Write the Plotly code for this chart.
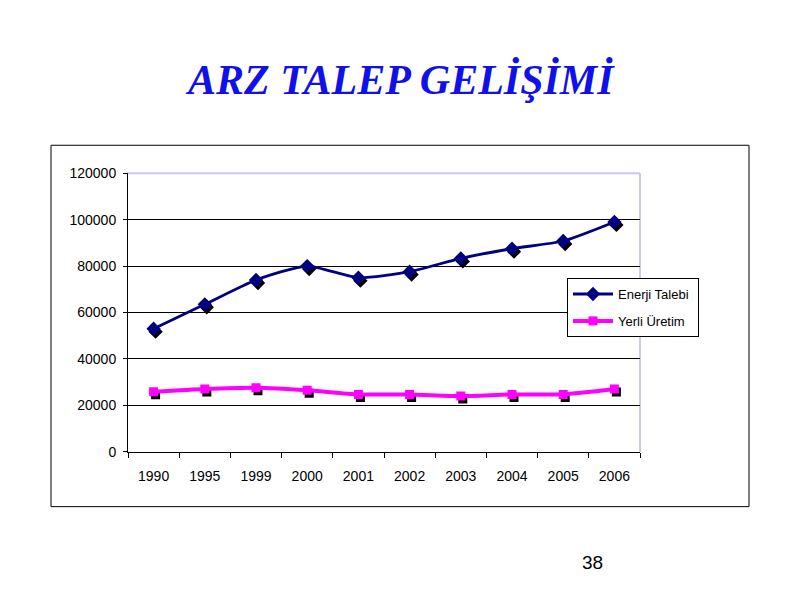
import plotly.graph_objects as go

years = ["1990", "1995", "1999", "2000", "2001", "2002", "2003", "2004", "2005", "2006"]
enerji_talebi = [53000, 63500, 74000, 80000, 75000, 77600, 83300, 87500, 90800, 99000]
yerli_uretim = [25800, 27000, 27600, 26500, 24700, 24700, 24000, 24700, 24700, 27000]
y_ticks = [0, 20000, 40000, 60000, 80000, 100000, 120000]

W, H = 800, 600
px0, px1, py0, py1 = 128, 640, 173, 452  # plot area in pixels
dx, dy = 2, 3  # shadow offset
TOP, SPAN = 7.5, 585.0  # observed vertical mapping of paper coords in the page


def fx(p):
    return p / W


def fy(p):
    return 1 - (p - TOP) / SPAN


fig = go.Figure()

# shadow markers (drawn first, on offset invisible axes)
fig.add_trace(go.Scatter(x=years, y=enerji_talebi, mode="markers", xaxis="x", yaxis="y",
                         marker=dict(symbol="diamond", size=11, color="black"),
                         showlegend=False, hoverinfo="skip"))
fig.add_trace(go.Scatter(x=years, y=yerli_uretim, mode="markers", xaxis="x", yaxis="y",
                         marker=dict(symbol="square", size=9, color="black"),
                         showlegend=False, hoverinfo="skip"))

fig.add_trace(go.Scatter(x=years, y=enerji_talebi, mode="lines+markers",
                         name="Enerji Talebi\u00a0",
                         xaxis="x2", yaxis="y2", legendgroup="a",
                         line=dict(color="#000080", width=2.8, shape="spline", smoothing=0.6),
                         marker=dict(symbol="diamond", size=11, color="#000080")))
fig.add_trace(go.Scatter(x=years, y=yerli_uretim, mode="lines+markers", name="Yerli Üretim",
                         xaxis="x2", yaxis="y2", legendgroup="b",
                         line=dict(color="#FF00FF", width=4, shape="spline", smoothing=0.6),
                         marker=dict(symbol="square", size=9, color="#FF00FF")))

axis_font = dict(family="Liberation Sans, Arial, sans-serif", size=14, color="black")

fig.update_layout(
    width=W, height=H,
    margin=dict(l=0, r=0, t=0, b=0, pad=0),
    paper_bgcolor="white", plot_bgcolor="rgba(0,0,0,0)",
    xaxis=dict(domain=[fx(px0 + dx), fx(px1 + dx)], type="category", range=[-0.5, 9.5],
               visible=False, anchor="y"),
    yaxis=dict(domain=[fy(py1 + dy), fy(py0 + dy)], range=[0, 120000],
               visible=False, anchor="x"),
    xaxis2=dict(domain=[fx(px0), fx(px1)], type="category", range=[-0.5, 9.5],
                showline=True, linecolor="black", linewidth=1,
                ticks="outside", tickson="boundaries", ticklen=5, tickcolor="black",
                ticklabelstandoff=11,
                showgrid=False, tickfont=axis_font, anchor="y2"),
    yaxis2=dict(domain=[fy(py1), fy(py0)], range=[0, 120000], tickvals=y_ticks,
                tickformat="d",
                showline=True, linecolor="black", linewidth=1,
                ticks="outside", ticklen=4, tickcolor="black",
                ticklabelstandoff=4,
                showgrid=True, gridcolor="black", gridwidth=1,
                zeroline=False, tickfont=axis_font, anchor="x2"),
    legend=dict(x=fx(567), y=fy(278), xanchor="left", yanchor="top",
                bordercolor="black", borderwidth=1, bgcolor="white",
                font=dict(family="Liberation Sans, Arial, sans-serif", size=13, color="black"),
                tracegroupgap=7, itemwidth=40),
    showlegend=True,
)

# outer chart box
fig.add_shape(type="rect", xref="paper", yref="paper",
              x0=fx(51), x1=fx(749), y0=fy(507), y1=fy(145),
              line=dict(color="black", width=1), layer="below")
# plot-area top and right border (lavender)
fig.add_shape(type="line", xref="paper", yref="paper",
              x0=fx(px0), x1=fx(px1), y0=fy(py0), y1=fy(py0),
              line=dict(color="#C8C8F0", width=2), layer="below")
fig.add_shape(type="line", xref="paper", yref="paper",
              x0=fx(px1), x1=fx(px1), y0=fy(py0), y1=fy(py1),
              line=dict(color="#C8C8F0", width=2), layer="below")

fig.add_annotation(text="<b><i>ARZ TALEP GELİŞİMİ</i></b>", xref="paper", yref="paper",
                   x=0.5, y=fy(80), xanchor="center", yanchor="middle", showarrow=False,
                   font=dict(family="Liberation Serif, DejaVu Serif, serif", size=42, color="#1010E8"))
fig.add_annotation(text="38", xref="paper", yref="paper",
                   x=fx(592), y=fy(563), xanchor="center", yanchor="middle", showarrow=False,
                   font=dict(family="Liberation Sans, Arial, sans-serif", size=19, color="black"))

post = (
    "var d=document.getElementById('{plot_id}');"
    "d.style.position='absolute';d.style.top='0px';d.style.left='0px';"
    "document.body.style.margin='0';document.body.style.overflow='hidden';"
    "document.documentElement.style.overflow='hidden';"
)
fig.write_html("out.html", config={"displayModeBar": False}, post_script=post)
